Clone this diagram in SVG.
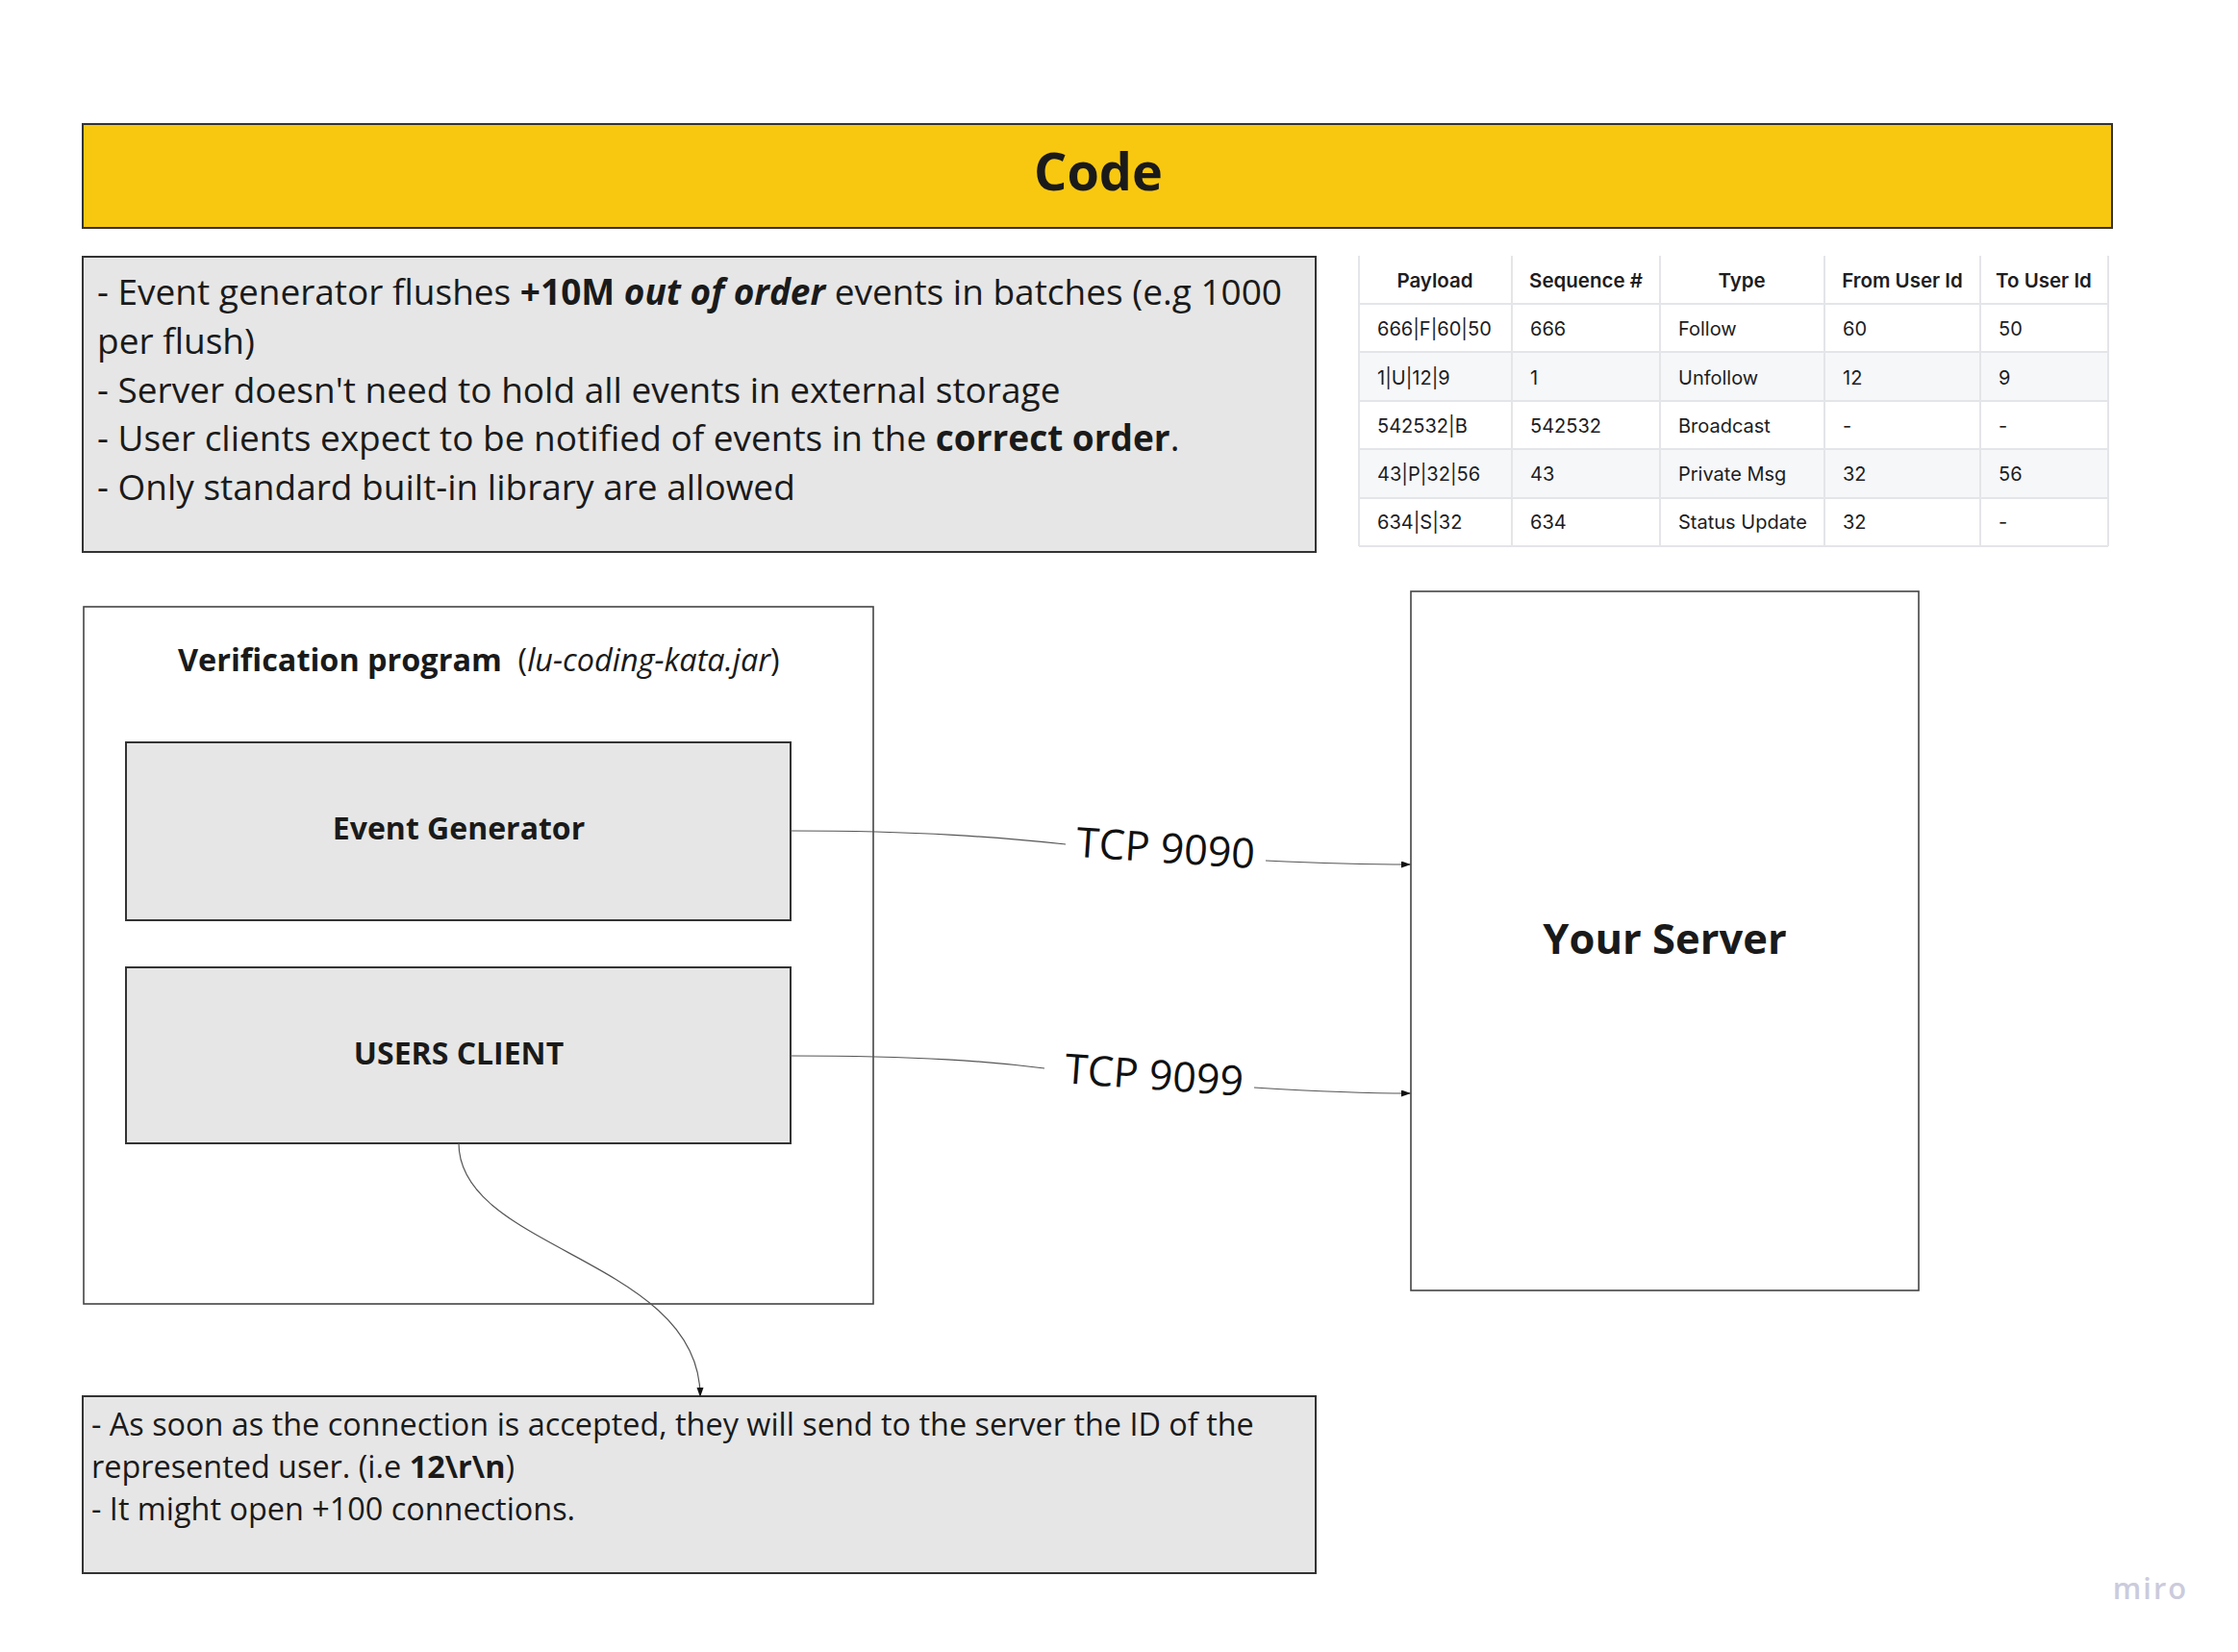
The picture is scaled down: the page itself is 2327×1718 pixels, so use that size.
<svg xmlns="http://www.w3.org/2000/svg" width="2327" height="1718" viewBox="0 0 2327 1718">
<style>
.box{fill:#e6e6e6;stroke:#333;stroke-width:2}
.frame{fill:#fff;stroke:#444;stroke-width:1.6}
.txt{font-family:"Open Sans","Liberation Sans",sans-serif;fill:#1a1a1a}
.b{font-weight:700}
.i{font-style:italic}
.note{font-size:37px}
.note2{font-size:32.4px}
.conn{fill:none;stroke:#555;stroke-width:1.2}
.tbl{font-family:Inter,"Liberation Sans",sans-serif;fill:#1d1d1f;font-size:20px}
.th{font-weight:600;font-size:20.5px;text-anchor:middle}
.grid{stroke:#e4e5e8;stroke-width:2}
.lbl{font-family:"Open Sans","Liberation Sans",sans-serif;font-size:43px;fill:#111;text-anchor:middle}
</style>
<defs>
<marker id="arr" markerUnits="userSpaceOnUse" markerWidth="10" markerHeight="8" refX="9" refY="3.5" orient="auto">
<path d="M0,0 L10,3.5 L0,7 z" fill="#111"/>
</marker>
</defs>
<rect width="2327" height="1718" fill="#fff"/>

<g id="banner">
<rect x="86" y="129" width="2110" height="108" fill="#f8c811" stroke="#333" stroke-width="2"/>
<text class="txt b" x="1142" y="198" font-size="54" text-anchor="middle">Code</text>
</g>

<g id="notes-top">
<rect class="box" x="86" y="267" width="1282" height="307"/>
<text class="txt note" x="101" y="317">- Event generator flushes <tspan class="b">+10M </tspan><tspan class="b i">out of order</tspan> events in batches (e.g 1000</text>
<text class="txt note" x="101" y="368">per flush)</text>
<text class="txt note" x="101" y="419">- Server doesn't need to hold all events in external storage</text>
<text class="txt note" x="101" y="469">- User clients expect to be notified of events in the <tspan class="b">correct order</tspan>.</text>
<text class="txt note" x="101" y="520">- Only standard built-in library are allowed</text>
</g>

<g id="table">
<rect x="1413" y="366" width="779" height="51" fill="#f6f7f9"/>
<rect x="1413" y="467" width="779" height="51" fill="#f6f7f9"/>
<g class="grid">
<line x1="1413" y1="266" x2="1413" y2="568"/>
<line x1="1572" y1="266" x2="1572" y2="568"/>
<line x1="1726" y1="266" x2="1726" y2="568"/>
<line x1="1897" y1="266" x2="1897" y2="568"/>
<line x1="2059" y1="266" x2="2059" y2="568"/>
<line x1="2192" y1="266" x2="2192" y2="568"/>
<line x1="1413" y1="316" x2="2192" y2="316"/>
<line x1="1413" y1="366" x2="2192" y2="366"/>
<line x1="1413" y1="417" x2="2192" y2="417"/>
<line x1="1413" y1="467" x2="2192" y2="467"/>
<line x1="1413" y1="518" x2="2192" y2="518"/>
<line x1="1413" y1="568" x2="2192" y2="568"/>
</g>
<text class="tbl th" x="1492" y="299">Payload</text>
<text class="tbl th" x="1649" y="299">Sequence #</text>
<text class="tbl th" x="1811" y="299">Type</text>
<text class="tbl th" x="1978" y="299">From User Id</text>
<text class="tbl th" x="2125" y="299">To User Id</text>
<text class="tbl" x="1432" y="349">666|F|60|50</text>
<text class="tbl" x="1591" y="349">666</text>
<text class="tbl" x="1745" y="349">Follow</text>
<text class="tbl" x="1916" y="349">60</text>
<text class="tbl" x="2078" y="349">50</text>
<text class="tbl" x="1432" y="400">1|U|12|9</text>
<text class="tbl" x="1591" y="400">1</text>
<text class="tbl" x="1745" y="400">Unfollow</text>
<text class="tbl" x="1916" y="400">12</text>
<text class="tbl" x="2078" y="400">9</text>
<text class="tbl" x="1432" y="450">542532|B</text>
<text class="tbl" x="1591" y="450">542532</text>
<text class="tbl" x="1745" y="450">Broadcast</text>
<text class="tbl" x="1916" y="450">-</text>
<text class="tbl" x="2078" y="450">-</text>
<text class="tbl" x="1432" y="500">43|P|32|56</text>
<text class="tbl" x="1591" y="500">43</text>
<text class="tbl" x="1745" y="500">Private Msg</text>
<text class="tbl" x="1916" y="500">32</text>
<text class="tbl" x="2078" y="500">56</text>
<text class="tbl" x="1432" y="550">634|S|32</text>
<text class="tbl" x="1591" y="550">634</text>
<text class="tbl" x="1745" y="550">Status Update</text>
<text class="tbl" x="1916" y="550">32</text>
<text class="tbl" x="2078" y="550">-</text>
</g>

<g id="verification">
<rect class="frame" x="87" y="631" width="821" height="725"/>
<text class="txt" x="185" y="698" font-size="32.4"><tspan class="b">Verification program</tspan>&#160; (<tspan class="i">lu-coding-kata.jar</tspan>)</text>
</g>

<g id="event-generator">
<rect class="box" x="131" y="772" width="691" height="185"/>
<text class="txt b" x="477" y="873" font-size="32" text-anchor="middle">Event Generator</text>
</g>

<g id="users-client">
<rect class="box" x="131" y="1006" width="691" height="183"/>
<text class="txt b" x="477" y="1107" font-size="32" text-anchor="middle">USERS CLIENT</text>
</g>

<g id="server">
<rect class="frame" x="1467" y="615" width="528" height="727"/>
<text class="txt b" x="1731" y="992" font-size="43.5" text-anchor="middle">Your Server</text>
</g>

<g id="notes-bottom">
<rect class="box" x="86" y="1452" width="1282" height="184"/>
<text class="txt note2" x="95" y="1493">- As soon as the connection is accepted, they will send to the server the ID of the</text>
<text class="txt note2" x="95" y="1537">represented user. (i.e <tspan class="b">12\r\n</tspan>)</text>
<text class="txt note2" x="95" y="1581">- It might open +100 connections.</text>
</g>

<g id="connectors">
<path class="conn" d="M822 864 C 960 864, 1040 871, 1108 878"/>
<path class="conn" d="M1316 895 C 1380 898, 1420 899, 1466 899" marker-end="url(#arr)"/>
<text class="lbl" transform="translate(1211 897) rotate(3.8)">TCP 9090</text>
<path class="conn" d="M822 1098 C 960 1098, 1030 1104, 1086 1111"/>
<path class="conn" d="M1304 1131 C 1370 1135, 1420 1137, 1466 1137" marker-end="url(#arr)"/>
<text class="lbl" transform="translate(1199 1133) rotate(4.2)">TCP 9099</text>
<path class="conn" d="M477 1189 C 477 1300, 728 1310, 728 1452" marker-end="url(#arr)"/>
</g>

<text x="2236" y="1663" font-family="Open Sans,Liberation Sans,sans-serif" font-size="31" font-weight="600" fill="#cbcbdc" text-anchor="middle" letter-spacing="2">miro</text>
</svg>
